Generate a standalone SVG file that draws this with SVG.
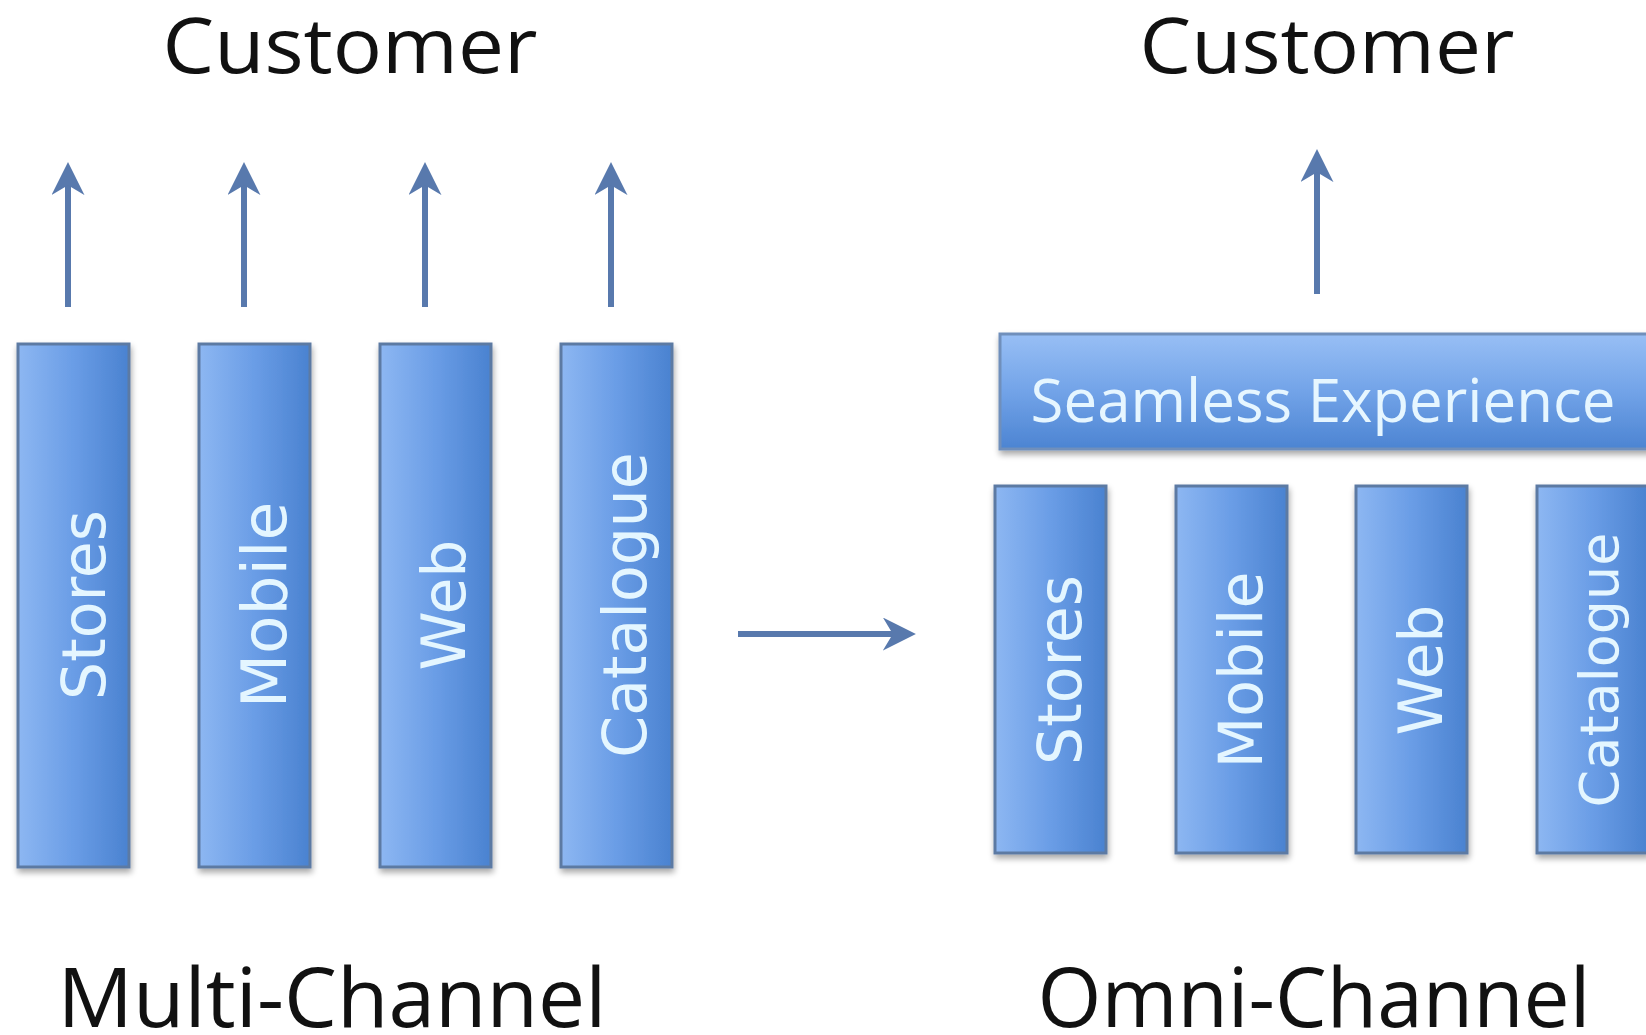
<svg xmlns="http://www.w3.org/2000/svg" width="1646" height="1035" viewBox="0 0 1646 1035">
  <defs>
    <linearGradient id="colFill" x1="0" y1="0" x2="1" y2="0">
      <stop offset="0" stop-color="#8db7f2"/>
      <stop offset="0.5" stop-color="#6a9de6"/>
      <stop offset="1" stop-color="#4a82d0"/>
    </linearGradient>
    <linearGradient id="barFill" x1="0" y1="0" x2="0" y2="1">
      <stop offset="0" stop-color="#98bff5"/>
      <stop offset="0.5" stop-color="#72a3e8"/>
      <stop offset="1" stop-color="#4c84d2"/>
    </linearGradient>
    <filter id="shadow" x="-20%" y="-20%" width="140%" height="140%">
      <feGaussianBlur in="SourceAlpha" stdDeviation="3"/>
      <feOffset dx="1" dy="4" result="b"/>
      <feComponentTransfer><feFuncA type="linear" slope="0.35"/></feComponentTransfer>
      <feMerge><feMergeNode/><feMergeNode in="SourceGraphic"/></feMerge>
    </filter>
    <marker id="head" viewBox="0 0 10 10" refX="7" refY="5" markerWidth="5.5" markerHeight="5.5" orient="auto" markerUnits="strokeWidth">
      <path d="M0,0 L10,5 L0,10 L3,5 Z" fill="#5879ad"/>
    </marker>
  </defs>
  <style>
    .col { fill: url(#colFill); stroke: #5c7aa3; stroke-width: 3; filter: url(#shadow); }
    .bar { fill: url(#barFill); stroke: #6f8fbb; stroke-width: 3; filter: url(#shadow); }
    .lbl { font-family: "DejaVu Sans", sans-serif; font-size: 60px; fill: #e4f6ff; text-anchor: middle; }
    .lbl.big { font-size: 63px; }
    .lbl.small { font-size: 54px; }
    .title { font-family: "Open Sans", "Liberation Sans", sans-serif; fill: #111; text-anchor: middle; }
    .arrow { stroke: #5879ad; stroke-width: 6; fill: none; marker-end: url(#head); }
  </style>

  <rect width="1646" height="1035" fill="#ffffff"/>

  <!-- headings -->
  <text id="customer-left" class="title" x="350" y="73" font-size="77" textLength="375" lengthAdjust="spacingAndGlyphs">Customer</text>
  <text id="customer-right" class="title" x="1327" y="73" font-size="77" textLength="375" lengthAdjust="spacingAndGlyphs">Customer</text>
  <text id="label-multi" class="title" x="332" y="1027" font-size="82" textLength="549" lengthAdjust="spacingAndGlyphs">Multi-Channel</text>
  <text id="label-omni" class="title" x="1314" y="1027" font-size="82" textLength="553" lengthAdjust="spacingAndGlyphs">Omni-Channel</text>

  <!-- multi-channel columns -->
  <g id="mc-stores">
    <rect class="col" x="18" y="344" width="111" height="523"/>
    <text class="lbl" transform="translate(105,605) rotate(-90)">Stores</text>
  </g>
  <g id="mc-mobile">
    <rect class="col" x="199" y="344" width="111" height="523"/>
    <text class="lbl big" transform="translate(286,605) rotate(-90)">Mobile</text>
  </g>
  <g id="mc-web">
    <rect class="col" x="380" y="344" width="111" height="523"/>
    <text class="lbl" transform="translate(465,605) rotate(-90)">Web</text>
  </g>
  <g id="mc-catalogue">
    <rect class="col" x="561" y="344" width="111" height="523"/>
    <text class="lbl" transform="translate(646,605) rotate(-90)">Catalogue</text>
  </g>

  <!-- omni-channel layer -->
  <g id="seamless">
    <rect class="bar" x="1000" y="334" width="660" height="115"/>
    <text x="1323" y="422" font-family="Open Sans, Liberation Sans, sans-serif" font-size="60" fill="#e6f6ff" text-anchor="middle">Seamless Experience</text>
  </g>
  <g id="oc-stores">
    <rect class="col" x="995" y="486" width="111" height="367"/>
    <text class="lbl" transform="translate(1081,670) rotate(-90)">Stores</text>
  </g>
  <g id="oc-mobile">
    <rect class="col" x="1176" y="486" width="111" height="367"/>
    <text class="lbl" transform="translate(1262,670) rotate(-90)">Mobile</text>
  </g>
  <g id="oc-web">
    <rect class="col" x="1356" y="486" width="111" height="367"/>
    <text class="lbl" transform="translate(1442,670) rotate(-90)">Web</text>
  </g>
  <g id="oc-catalogue">
    <rect class="col" x="1537" y="486" width="111" height="367"/>
    <text class="lbl small" transform="translate(1618,670) rotate(-90)">Catalogue</text>
  </g>

  <!-- connectors -->
  <g id="connectors">
    <line class="arrow" x1="68" y1="307" x2="68" y2="172"/>
    <line class="arrow" x1="244" y1="307" x2="244" y2="172"/>
    <line class="arrow" x1="425" y1="307" x2="425" y2="172"/>
    <line class="arrow" x1="611" y1="307" x2="611" y2="172"/>
    <line class="arrow" x1="1317" y1="294" x2="1317" y2="159"/>
    <line class="arrow" x1="738" y1="634" x2="906" y2="634"/>
  </g>
</svg>
